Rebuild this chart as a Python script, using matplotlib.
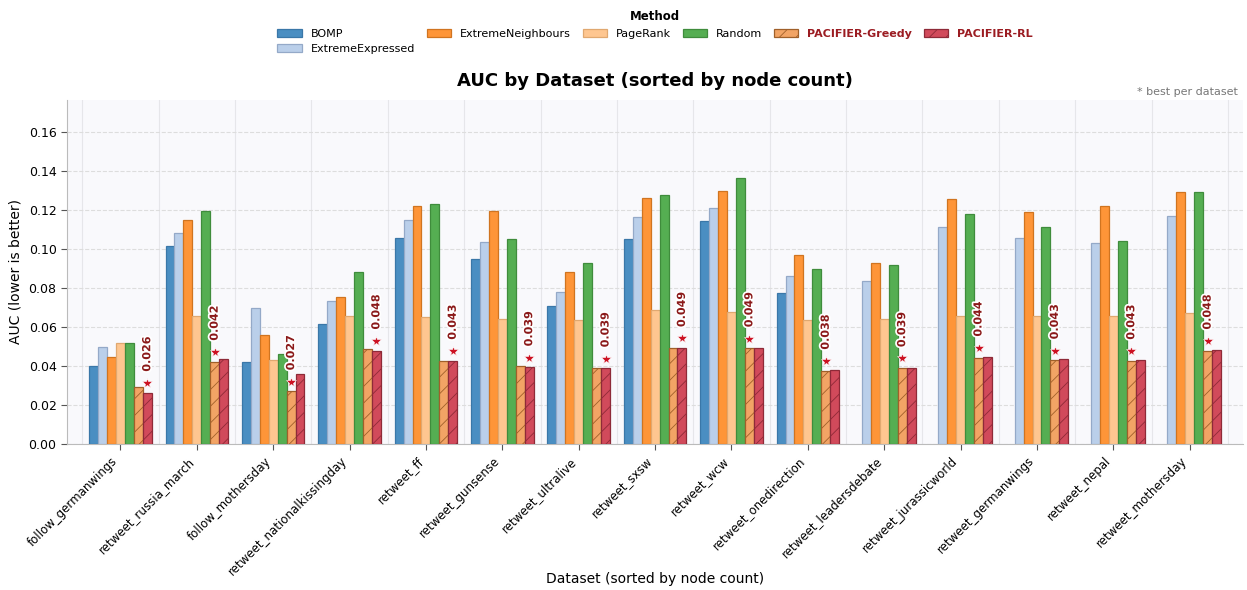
import numpy as np
import matplotlib
matplotlib.use("Agg")
import matplotlib.pyplot as plt
import matplotlib.patheffects as pe

datasets = [
    "follow_germanwings", "retweet_russia_march", "follow_mothersday",
    "retweet_nationalkissingday", "retweet_ff", "retweet_gunsense",
    "retweet_ultralive", "retweet_sxsw", "retweet_wcw", "retweet_onedirection",
    "retweet_leadersdebate", "retweet_jurassicworld", "retweet_germanwings",
    "retweet_nepal", "retweet_mothersday",
]

methods = ["BOMP", "ExtremeExpressed", "ExtremeNeighbours", "PageRank",
           "Random", "PACIFIER-Greedy", "PACIFIER-RL"]

nan = np.nan
bomp = [0.0402, 0.1015, 0.0419, 0.0614, 0.1058, 0.0950, 0.0709, 0.1051, 0.1144,
        0.0774, nan, nan, nan, nan, nan]
extreme_expressed = [0.0496, 0.1085, 0.0699, 0.0732, 0.1150, 0.1038, 0.0778, 0.1164,
                     0.1212, 0.0862, 0.0834, 0.1113, 0.1058, 0.1032, 0.1171]
extreme_neighbours = [0.0448, 0.1147, 0.0557, 0.0754, 0.1222, 0.1193, 0.0884, 0.1262,
                      0.1297, 0.0969, 0.0927, 0.1255, 0.1190, 0.1222, 0.1291]
pagerank = [0.0520, 0.0658, 0.0429, 0.0658, 0.0653, 0.0641, 0.0634, 0.0689, 0.0675,
            0.0636, 0.0639, 0.0655, 0.0658, 0.0655, 0.0672]
random_sel = [0.0520, 0.1193, 0.0463, 0.0885, 0.1229, 0.1051, 0.0927, 0.1280, 0.1364,
              0.0896, 0.0916, 0.1181, 0.1115, 0.1044, 0.1294]
pacifier_greedy = [0.0291, 0.0422, 0.0270, 0.0485, 0.0428, 0.0398, 0.0391, 0.0494,
                   0.0491, 0.0376, 0.0389, 0.0443, 0.0429, 0.0427, 0.0479]
pacifier_rl = [0.0263, 0.0434, 0.0361, 0.0479, 0.0427, 0.0393, 0.0388, 0.0492,
               0.0493, 0.0379, 0.0391, 0.0445, 0.0434, 0.0431, 0.0481]

series = [bomp, extreme_expressed, extreme_neighbours, pagerank, random_sel,
          pacifier_greedy, pacifier_rl]

face_colors = ["#4a8ec2", "#bacfea", "#fe9538", "#fec690", "#55ae52", "#f2a465", "#d14a5b"]
edge_colors = ["#3a77a8", "#94a9c8", "#d07420", "#e0a870", "#3f8c3c", "#a0602a", "#8e2a38"]
hatches = [None, None, None, None, None, "//", "//"]

plt.rcParams["font.family"] = ["DejaVu Sans"]
plt.rcParams["hatch.linewidth"] = 0.6

fig = plt.figure(figsize=(12.47, 5.9), dpi=100)
ax = fig.add_axes([0.0537, 0.2475, 0.9433, 0.583])
ax.set_facecolor("#f9f9fc")

n = len(datasets)
x = np.arange(n)
width = 0.117
offsets = (np.arange(len(methods)) - (len(methods) - 1) / 2) * width

handles = []
for k, (name, vals) in enumerate(zip(methods, series)):
    bars = ax.bar(x + offsets[k], vals, width, color=face_colors[k],
                  edgecolor=edge_colors[k], linewidth=0.9, hatch=hatches[k],
                  label=name, zorder=3)
    handles.append(bars)

# mark the lowest AUC in each dataset
data = np.array(series, dtype=float)
for i in range(n):
    col = data[:, i]
    best = int(np.nanargmin(col))
    v = col[best]
    xb = x[i] + offsets[best]
    ax.plot(xb, v + 0.005, marker="*", color="#cc1122", markersize=7.5,
            markeredgecolor="white", markeredgewidth=0.4, zorder=5)
    ax.text(xb, v + 0.0108, f"{v:.3f}", rotation=90, ha="center", va="bottom",
            fontsize=8, fontweight="bold", color="#8b1a1a", zorder=6,
            path_effects=[pe.withStroke(linewidth=2.5, foreground="white")])

ax.set_xlim(-0.7, n - 0.3)
ax.set_ylim(0, 0.1765)
ax.set_yticks(np.arange(0, 0.161, 0.02))
ax.yaxis.set_major_formatter(matplotlib.ticker.FormatStrFormatter("%.2f"))
ax.set_xticks(x)
ax.set_xticklabels(datasets, rotation=45, ha="right", fontsize=8.5)
ax.tick_params(axis="y", labelsize=9, color="#555555", length=4)
ax.tick_params(axis="x", color="#555555", length=4)

ax.grid(axis="y", linestyle="--", color="#dddddd", linewidth=0.8, zorder=0)
for i in range(n + 1):
    ax.axvline(i - 0.5, color="#e6e6ea", linewidth=0.8, zorder=0)

for s in ["top", "right"]:
    ax.spines[s].set_visible(False)
for s in ["left", "bottom"]:
    ax.spines[s].set_color("#bbbbbb")

ax.set_ylabel("AUC (lower is better)", fontsize=10)
ax.set_xlabel("Dataset (sorted by node count)", fontsize=10)
ax.xaxis.set_label_coords(0.5, -0.372)
ax.set_title("AUC by Dataset (sorted by node count)", fontsize=13, fontweight="bold", pad=10)
ax.text(0.995, 1.01, "* best per dataset", transform=ax.transAxes, ha="right",
        va="bottom", fontsize=8, color="#777777")

leg = fig.legend(handles=handles, loc="upper center", bbox_to_anchor=(0.5253, 1.0),
                 ncol=6, frameon=False, fontsize=8, title="Method",
                 title_fontproperties={"weight": "bold", "size": 8.5},
                 handlelength=2.2, columnspacing=1.05, handletextpad=0.8,
                 labelspacing=0.5)
for t in leg.get_texts():
    if t.get_text().startswith("PACIFIER"):
        t.set_fontweight("bold")
        t.set_color("#9b1c22")

fig.savefig("out.png", dpi=100)
